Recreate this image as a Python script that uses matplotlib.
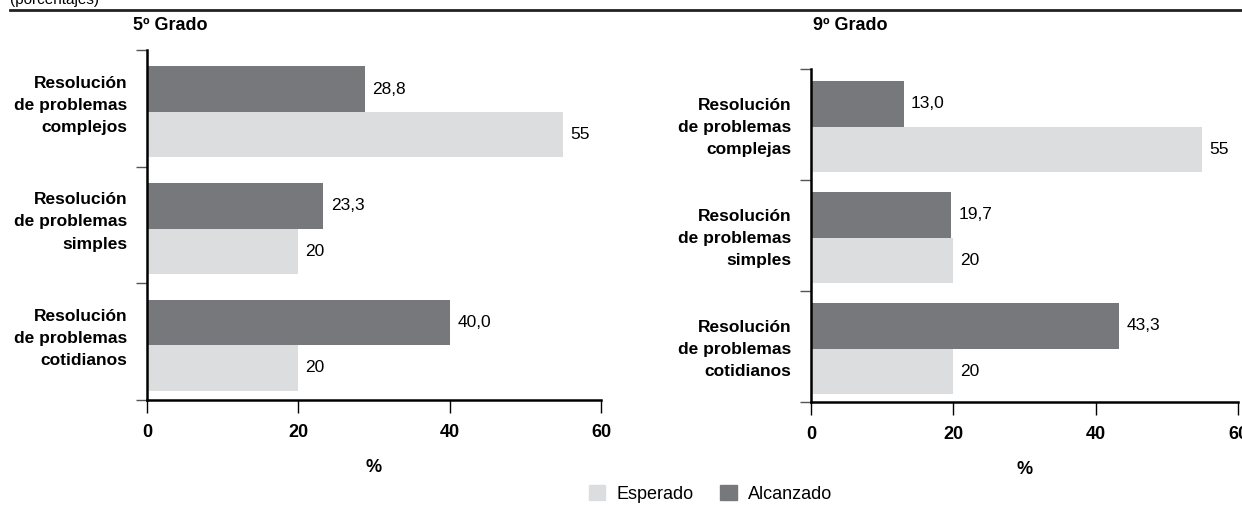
import matplotlib
matplotlib.use("Agg")
import matplotlib.pyplot as plt
from matplotlib.patches import Patch

# datos (porcentajes)
cats_5 = ["Resolución\nde problemas\ncomplejos",
          "Resolución\nde problemas\nsimples",
          "Resolución\nde problemas\ncotidianos"]
cats_9 = ["Resolución\nde problemas\ncomplejas",
          "Resolución\nde problemas\nsimples",
          "Resolución\nde problemas\ncotidianos"]
alcanzado_5 = [28.8, 23.3, 40.0]
esperado_5 = [55, 20, 20]
alcanzado_9 = [13.0, 19.7, 43.3]
esperado_9 = [55, 20, 20]
xticks = [0, 20, 40, 60]

C_ALC = "#77787b"
C_ESP = "#dcdddf"
plt.rcParams["font.family"] = ["Liberation Sans", "DejaVu Sans"]

W, H = 1242, 505
fig = plt.figure(figsize=(W / 100, H / 100), dpi=100)


def panel(ax, cats, alc, esp, h, off, lab_off):
    n = len(cats)
    pos = [i + off for i in range(n)]
    ax.barh([p - h / 2 for p in pos], alc, height=h, color=C_ALC)
    ax.barh([p + h / 2 for p in pos], esp, height=h, color=C_ESP)
    for p, v in zip(pos, alc):
        ax.text(v + 1.0, p - h / 2, f"{v:.1f}".replace(".", ","),
                va="center", ha="left", fontsize=12.5)
    for p, v in zip(pos, esp):
        ax.text(v + 0.9, p + h / 2, f"{v:g}",
                va="center", ha="left", fontsize=12.5)
    ax.set_xlim(0, 60)
    ax.set_ylim(n - 0.5, -0.5)
    ax.set_xticks(xticks)
    ax.set_xticklabels([str(t) for t in xticks], fontweight="bold", fontsize=13)
    ax.set_yticks([i - 0.5 for i in range(n + 1)])
    ax.set_yticklabels([])
    ax.set_yticks([i + lab_off for i in range(n)], minor=True)
    ax.set_yticklabels(cats, minor=True, fontweight="bold", fontsize=12.5,
                       linespacing=1.6)
    ax.tick_params(axis="y", which="minor", length=0, pad=14)
    ax.tick_params(axis="y", which="major", length=8, width=1, color="#555555")
    ax.tick_params(axis="x", length=9, width=1, pad=8)
    for s in ["top", "right"]:
        ax.spines[s].set_visible(False)
    ax.spines["left"].set_linewidth(1.8)
    ax.spines["bottom"].set_linewidth(1.8)
    ax.set_xlabel("%", fontweight="bold", fontsize=13, labelpad=13)


ax1 = fig.add_axes([147 / W, 1 - 400 / H, 454 / W, 350 / H])
panel(ax1, cats_5, alcanzado_5, esperado_5, 0.39, 0.03, -0.07)

ax2 = fig.add_axes([811 / W, 1 - 402 / H, 427 / W, 333 / H])
panel(ax2, cats_9, alcanzado_9, esperado_9, 0.41, 0.02, -0.02)

# títulos de cada grado
fig.text(133 / W, 1 - 25 / H, "5º Grado", fontweight="bold", fontsize=13,
         va="center", ha="left")
fig.text(813 / W, 1 - 25 / H, "9º Grado", fontweight="bold", fontsize=13,
         va="center", ha="left")

# línea superior y subtítulo cortado
fig.add_artist(plt.Line2D([10 / W, 1], [1 - 10 / H] * 2,
                          color="#222222", linewidth=2))
fig.text(10 / W, 1 - 7 / H, "(porcentajes)", fontsize=11, va="bottom")

handles = [Patch(color=C_ESP, label="Esperado"),
           Patch(color=C_ALC, label="Alcanzado")]
fig.legend(handles=handles, loc="center", bbox_to_anchor=(0.572, 1 - 494 / H),
           ncol=2, frameon=False, fontsize=13, handlelength=0.9,
           handleheight=0.9, columnspacing=1.5, handletextpad=0.6,
           borderpad=0.1)

fig.savefig("out.png", dpi=100)
